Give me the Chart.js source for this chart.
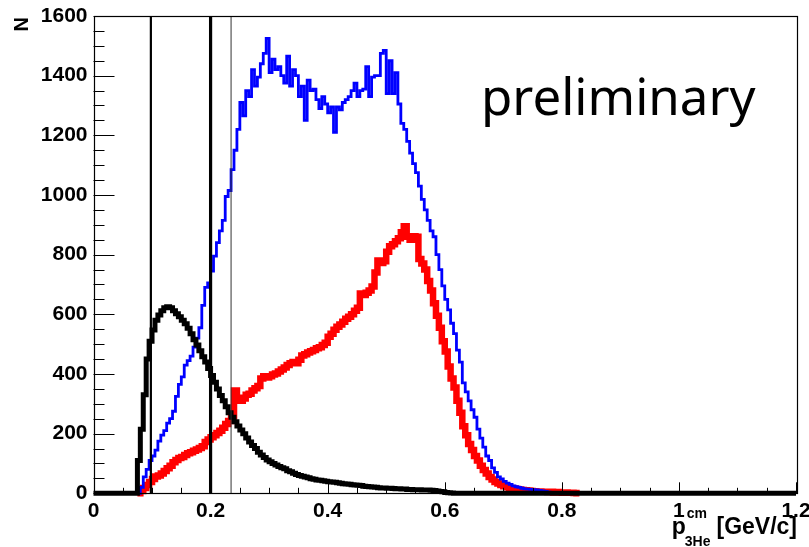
<!DOCTYPE html>
<html>
<head>
<meta charset="utf-8">
<script src="https://cdn.jsdelivr.net/npm/chart.js@4.4.1/dist/chart.umd.min.js"></script>
<style>
  html, body { margin: 0; padding: 0; background: #ffffff; }
  #wrap { width: 809px; height: 547px; }
</style>
</head>
<body>
<div id="wrap"><canvas id="c" width="809" height="547"></canvas></div>
<script>
// ---------- data ----------
const histRange = [0, 1.2];
const binWidth = 0.005;

const blueStart = 0.075;
const blueCounts = [
  0, 20, 55, 80, 110, 125, 145, 175, 195, 210,
  235, 250, 275, 325, 365, 390, 430, 445, 460, 490,
  520, 555, 630, 690, 705, 745, 795, 840, 880, 915,
  995, 1015, 1085, 1150, 1220, 1310, 1265, 1350, 1330, 1420,
  1365, 1395, 1440, 1475, 1525, 1410, 1455, 1420, 1430, 1400,
  1375, 1465, 1365, 1420, 1400, 1330, 1365, 1250, 1385, 1350,
  1355, 1320, 1290, 1330, 1305, 1275, 1295, 1210, 1295, 1285,
  1310, 1320, 1330, 1350, 1375, 1330, 1350, 1355, 1430, 1330,
  1395, 1400, 1400, 1475, 1485, 1340, 1450, 1340, 1410, 1305,
  1240, 1220, 1180, 1140, 1105, 1075, 1030, 985, 950, 915,
  880, 860, 800, 750, 695, 650, 615, 570, 535, 480,
  440, 370, 340, 310, 280, 255, 215, 185, 155, 125,
  110, 85, 70, 55, 48, 40, 34, 30, 25, 22,
  20, 17, 15, 14, 13, 12, 11, 10, 8, 6,
  4, 3, 2, 1, 0
];

const redStart = 0.075;
const redCounts = [
  0, 8, 18, 28, 38, 48, 56, 60, 66, 75,
  84, 92, 104, 112, 118, 122, 128, 134, 138, 143,
  147, 152, 158, 172, 180, 188, 195, 202, 210, 220,
  232, 242, 258, 345, 320, 310, 318, 330, 334, 345,
  352, 360, 385, 392, 388, 392, 398, 402, 408, 415,
  422, 430, 436, 440, 436, 448, 462, 466, 472, 476,
  480, 486, 490, 497, 505, 525, 535, 548, 558, 566,
  575, 585, 592, 600, 612, 622, 670, 665, 672, 680,
  693, 740, 780, 772, 778, 810, 828, 835, 845, 855,
  875, 895, 860, 850, 862, 860, 785, 770, 750, 712,
  680, 637, 595, 555, 510, 475, 425, 385, 355, 310,
  270, 225, 195, 165, 145, 125, 110, 92, 78, 66,
  55, 46, 38, 33, 28, 24, 20, 18, 16, 14,
  13, 11, 10, 9, 8, 7, 6, 6, 5, 5,
  4, 5, 3, 4, 3, 2, 3, 2, 2, 1, 0
];

const blackStart = 0.075;
const blackCounts = [
  110, 215, 330, 450, 510, 547, 580, 598, 612, 622,
  625, 622, 612, 602, 592, 580, 568, 553, 535, 515,
  497, 478, 458, 440, 418, 395, 372, 350, 328, 310,
  290, 270, 255, 240, 226, 212, 200, 185, 172, 160,
  150, 138, 128, 120, 112, 106, 100, 95, 90, 86,
  82, 76, 72, 67, 63, 60, 57, 55, 52, 49,
  47, 45, 44, 42, 40, 39, 38, 37, 35, 34,
  32, 31, 30, 29, 28, 27, 26, 24, 23, 22,
  21, 20, 19, 18, 18, 17, 17, 16, 15, 15,
  14, 14, 13, 13, 12, 12, 12, 11, 11, 11,
  10, 9, 8, 6, 5, 3, 2, 1, 0
];

const cutLines = [0.098, 0.2, 0.235];
const xTicks = [0, 0.2, 0.4, 0.6, 0.8, 1, 1.2];
const yTicks = [0, 200, 400, 600, 800, 1000, 1200, 1400, 1600];
const xMinorStep = 0.05;
const yMinorStep = 50;
const yMax = 1600;

// ---------- build histogram outlines ----------
function histPoints(start, counts, spanFull) {
  const pts = [];
  if (spanFull) pts.push({ x: histRange[0], y: 0 });
  else pts.push({ x: start, y: 0 });
  counts.forEach((c, i) => pts.push({ x: start + i * binWidth, y: c }));
  pts.push({ x: start + counts.length * binWidth, y: 0 });
  if (spanFull) pts.push({ x: histRange[1], y: 0 });
  return pts;
}

const FONT = '"Liberation Sans", Arial, Helvetica, sans-serif';

const histBase = { pointRadius: 0, fill: false, stepped: 'before', clip: false, tension: 0 };

const datasets = [
  Object.assign({}, histBase, { label: 'red', data: histPoints(redStart, redCounts, false), borderColor: '#ff0000', borderWidth: 6.5, order: 4 }),
  Object.assign({}, histBase, { label: 'blue', data: histPoints(blueStart, blueCounts, false), borderColor: '#0000ff', borderWidth: 2.8, order: 3 }),
  Object.assign({}, histBase, { label: 'black', data: histPoints(blackStart, blackCounts, true), borderColor: '#000000', borderWidth: 5, order: 2 })
];
const cutWidths = [2.2, 3.2, 1];
const cutColors = ['#000000', '#000000', '#333333'];
cutLines.forEach((v, i) => {
  datasets.push({
    label: 'cut' + i,
    data: [{ x: v, y: 0 }, { x: v, y: yMax }],
    borderColor: cutColors[i], borderWidth: cutWidths[i],
    pointRadius: 0, fill: false, clip: false, order: 1
  });
});

const decor = {
  id: 'decor',
  afterDraw(chart) {
    const ctx = chart.ctx;
    const a = chart.chartArea;
    const xs = chart.scales.x, ys = chart.scales.y;
    ctx.save();
    ctx.strokeStyle = '#000';
    ctx.lineWidth = 1;
    // ticks on x
    const nX = Math.round((histRange[1] - histRange[0]) / xMinorStep);
    for (let i = 0; i <= nX; i++) {
      const v = histRange[0] + i * xMinorStep;
      const px = Math.round(xs.getPixelForValue(v)) + 0.5;
      const len = (i % 4 === 0) ? 11 : 5.5;
      ctx.beginPath(); ctx.moveTo(px, a.bottom); ctx.lineTo(px, a.bottom - len); ctx.stroke();
    }
    // ticks on y
    const nY = Math.round(yMax / yMinorStep);
    for (let i = 0; i <= nY; i++) {
      const v = i * yMinorStep;
      const py = Math.round(ys.getPixelForValue(v)) + 0.5;
      const len = (i % 4 === 0) ? 21 : 11;
      ctx.beginPath(); ctx.moveTo(a.left, py); ctx.lineTo(a.left + len, py); ctx.stroke();
    }
    // frame
    ctx.lineWidth = 1.2;
    ctx.strokeRect(Math.round(a.left) + 0.5, Math.round(a.top) + 0.5, Math.round(a.right - a.left), Math.round(a.bottom - a.top));

    // x axis title  p^{cm}_{3He} [GeV/c]
    ctx.fillStyle = '#000';
    ctx.textBaseline = 'alphabetic';
    ctx.font = 'bold 23px ' + FONT;
    ctx.textAlign = 'right';
    let x = a.right + 1;
    ctx.fillText('[GeV/c]', x, 534);
    x -= ctx.measureText('[GeV/c]').width + 6;
    ctx.font = 'bold 14px ' + FONT;
    const wSub = ctx.measureText('3He').width;
    const wSup = ctx.measureText('cm').width;
    x -= Math.max(wSub, wSup);
    ctx.textAlign = 'left';
    ctx.fillText('3He', x, 546);
    ctx.fillText('cm', x + 2, 518);
    ctx.font = 'bold 23px ' + FONT;
    ctx.textAlign = 'right';
    ctx.fillText('p', x + 1, 534);

    // y axis title N
    ctx.save();
    ctx.translate(28, 17);
    ctx.rotate(-Math.PI / 2);
    ctx.font = 'bold 20px ' + FONT;
    ctx.textAlign = 'right';
    ctx.fillText('N', 0, 0);
    ctx.restore();

    // preliminary
    ctx.font = '51px "Noto Sans", sans-serif';
    ctx.textAlign = 'left';
    ctx.fillText('preliminary', 481, 115);
    ctx.restore();
  }
};

new Chart(document.getElementById('c'), {
  type: 'line',
  data: { datasets },
  options: {
    responsive: false,
    devicePixelRatio: 1,
    animation: false,
    events: [],
    layout: { padding: { left: 0, right: 13, top: 16, bottom: 0 } },
    plugins: { legend: { display: false }, tooltip: { enabled: false } },
    scales: {
      x: {
        type: 'linear', min: histRange[0], max: histRange[1],
        grid: { display: false, drawTicks: false },
        border: { display: false },
        afterBuildTicks: s => { s.ticks = xTicks.map(v => ({ value: v })); },
        afterFit: s => { s.height = 53.7; s.paddingLeft = 0; s.paddingRight = 0; },
        ticks: {
          autoSkip: false, maxRotation: 0, padding: 5, color: '#000',
          font: { family: FONT, size: 21, weight: 'bold' },
          callback: v => String(Math.round(v * 10) / 10)
        }
      },
      y: {
        type: 'linear', min: 0, max: yMax,
        grid: { display: false, drawTicks: false },
        border: { display: false },
        afterBuildTicks: s => { s.ticks = yTicks.map(v => ({ value: v })); },
        afterFit: s => { s.width = 93.5; s.paddingTop = 0; s.paddingBottom = 0; },
        ticks: {
          autoSkip: false, padding: 6, color: '#000',
          font: { family: FONT, size: 21, weight: 'bold' },
          callback: v => String(v)
        }
      }
    }
  },
  plugins: [decor]
});
</script>
</body>
</html>
